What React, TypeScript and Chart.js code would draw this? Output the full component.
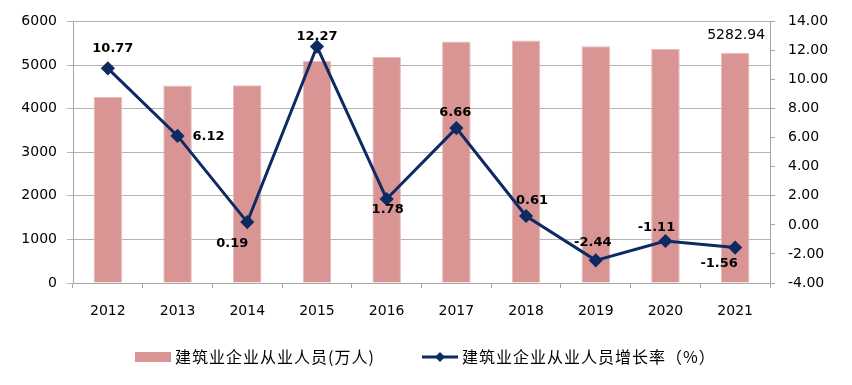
import React, { useEffect, useRef } from "react";
import { Chart, registerables } from "chart.js";

Chart.register(...registerables);

const years = ["2012", "2013", "2014", "2015", "2016", "2017", "2018", "2019", "2020", "2021"];
const workers = [4267.24, 4528.4, 4536.9, 5093.7, 5184.5, 5536.9, 5563.3, 5427.4, 5366.9, 5282.94];
const growth = [10.77, 6.12, 0.19, 12.27, 1.78, 6.66, 0.61, -2.44, -1.11, -1.56];
const barLegend = "建筑业企业从业人员(万人)";
const lineLegend = "建筑业企业从业人员增长率（%）";

// label offsets (style only)
const labelOffsets: [number, number][] = [
  [5, -20], [31, 1], [-15, 22], [0, -10], [1, 11], [-1, -15], [6, -15], [-3, -18], [-9, -13], [-16, 16],
];

const BAR = "#D99594";
const LINE = "#0E2A63";
const NUM_FONT = "'DejaVu Sans', Verdana, sans-serif";
const CJK_FONT = "'Noto Sans CJK SC', sans-serif";

const overlay = {
  id: "overlay",
  afterDatasetsDraw(chart: any) {
    const ctx = chart.ctx;
    ctx.save();
    // line point labels
    const lineMeta = chart.getDatasetMeta(1);
    ctx.font = `bold 13px ${NUM_FONT}`;
    ctx.fillStyle = "#000";
    ctx.textAlign = "center";
    ctx.textBaseline = "middle";
    lineMeta.data.forEach((pt: any, i: number) => {
      const [dx, dy] = labelOffsets[i];
      ctx.fillText(growth[i].toFixed(2), pt.x + dx, pt.y + dy);
    });
    // last bar label
    const barMeta = chart.getDatasetMeta(0);
    const last = barMeta.data[barMeta.data.length - 1];
    ctx.font = `14px ${NUM_FONT}`;
    ctx.fillText(workers[workers.length - 1].toFixed(2), last.x + 1, last.y - 17);

    // legend
    const ly = 357;
    ctx.fillStyle = BAR;
    ctx.fillRect(135, ly - 5, 36, 10);
    ctx.fillStyle = "#000";
    ctx.textAlign = "left";
    ctx.font = `16px ${CJK_FONT}`;
    try { (ctx as any).letterSpacing = "1px"; } catch (e) {}
    ctx.fillText(barLegend, 175, ly);
    ctx.strokeStyle = LINE;
    ctx.lineWidth = 3;
    ctx.beginPath();
    ctx.moveTo(422, ly);
    ctx.lineTo(458, ly);
    ctx.stroke();
    ctx.fillStyle = LINE;
    ctx.beginPath();
    ctx.moveTo(440, ly - 5);
    ctx.lineTo(445, ly);
    ctx.lineTo(440, ly + 5);
    ctx.lineTo(435, ly);
    ctx.closePath();
    ctx.fill();
    ctx.fillStyle = "#000";
    ctx.fillText(lineLegend, 462, ly);
    try { (ctx as any).letterSpacing = "0px"; } catch (e) {}
    ctx.restore();
  },
};

export default function App() {
  const ref = useRef<HTMLCanvasElement>(null);
  useEffect(() => {
    if (!ref.current) return;
    const chart = new Chart(ref.current, {
      type: "bar",
      data: {
        labels: years,
        datasets: [
          {
            type: "bar",
            label: barLegend,
            data: workers,
            backgroundColor: BAR,
            borderColor: "#E8BDBC",
            borderWidth: 1,
            barPercentage: 0.41,
            categoryPercentage: 1,
            yAxisID: "y",
            order: 2,
          },
          {
            type: "line",
            label: lineLegend,
            data: growth,
            borderColor: LINE,
            backgroundColor: LINE,
            borderWidth: 3,
            pointStyle: "rectRot",
            pointRadius: 5,
            pointHoverRadius: 5,
            tension: 0,
            yAxisID: "y1",
            order: 1,
          } as any,
        ],
      },
      options: {
        responsive: false,
        animation: false,
        layout: { padding: { top: 20, left: 0, right: 0, bottom: 0 } },
        plugins: {
          legend: { display: false },
          tooltip: { enabled: false },
          title: { display: false },
        },
        scales: {
          x: {
            offset: true,
            grid: {
              offset: true,
              drawOnChartArea: false,
              drawTicks: true,
              tickLength: 5,
              color: "#A6A6A6",
            },
            border: { color: "#A6A6A6" },
            ticks: {
              font: { family: NUM_FONT, size: 14 },
              color: "#000",
              padding: 15,
            },
            afterFit(scale: any) {
              scale.height = 102;
            },
          },
          y: {
            position: "left",
            min: 0,
            max: 6000,
            ticks: {
              stepSize: 1000,
              font: { family: NUM_FONT, size: 14 },
              color: "#000",
              padding: 10,
              callback: (v: any) => String(v),
            },
            grid: { color: "#B3B3B3", tickLength: 6 },
            border: { color: "#A6A6A6" },
            afterFit(scale: any) {
              scale.width = 73;
            },
          },
          y1: {
            position: "right",
            min: -4,
            max: 14,
            ticks: {
              stepSize: 2,
              font: { family: NUM_FONT, size: 14 },
              color: "#000",
              padding: 13,
              callback: (v: any) => Number(v).toFixed(2),
            },
            grid: { drawOnChartArea: false, tickLength: 5, color: "#A6A6A6" },
            border: { color: "#A6A6A6" },
            afterFit(scale: any) {
              scale.width = 82;
            },
          },
        },
      },
      plugins: [overlay],
    });
    return () => chart.destroy();
  }, []);
  return (
    <div style={{ position: "absolute", left: 0, top: 0, width: 852, height: 385, background: "#fff" }}>
      <canvas ref={ref} width={852} height={385} />
    </div>
  );
}
